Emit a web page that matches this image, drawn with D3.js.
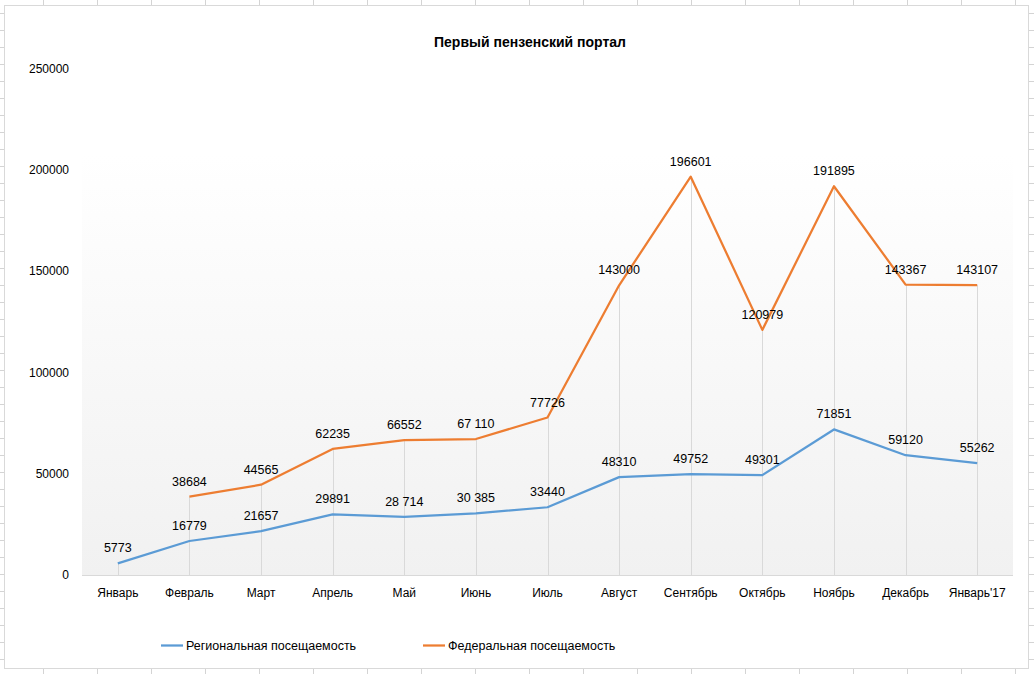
<!DOCTYPE html>
<html><head><meta charset="utf-8">
<script src="https://cdn.jsdelivr.net/npm/d3@7"></script>
<style>
html,body{margin:0;padding:0;background:#fff;}
svg{display:block;font-family:"Liberation Sans",Arial,sans-serif;}
</style></head>
<body><svg id="c" width="1034" height="674"></svg>
<script>
const title = "Первый пензенский портал";
const months = ["Январь","Февраль","Март","Апрель","Май","Июнь","Июль","Август","Сентябрь","Октябрь","Ноябрь","Декабрь","Январь'17"];
const regional = [5773,16779,21657,29891,28714,30385,33440,48310,49752,49301,71851,59120,55262];
const regionalLabels = ["5773","16779","21657","29891","28 714","30 385","33440","48310","49752","49301","71851","59120","55262"];
const federal = [null,38684,44565,62235,66552,67110,77726,143000,196601,120979,191895,143367,143107];
const federalLabels = ["","38684","44565","62235","66552","67 110","77726","143000","196601","120979","191895","143367","143107"];
const yTicks = [0,50000,100000,150000,200000,250000];
const seriesNames = ["Региональная посещаемость","Федеральная посещаемость"];
const colors = ["#5b9bd5","#ed7d31"];

const svg = d3.select("#c");
const W = 1034, H = 674;

// spreadsheet grid background
const grid = svg.append("g").attr("stroke","#d4d4d4").attr("stroke-width",1).attr("shape-rendering","crispEdges");
for (let x = 43.5; x < W; x += 54) grid.append("line").attr("x1",x).attr("x2",x).attr("y1",0).attr("y2",H);
for (let y = 13.5; y < H; y += 17) grid.append("line").attr("x1",0).attr("x2",W).attr("y1",y).attr("y2",y);

// chart object
svg.append("rect").attr("x",4.5).attr("y",5.5).attr("width",1024).attr("height",663)
  .attr("fill","#fff").attr("stroke","#d9d9d9").attr("shape-rendering","crispEdges");

const plotL = 82, plotR = 1013, plotTop = 155, plotBottom = 575;
const x = d3.scaleBand().domain(months).range([plotL, plotR]).paddingInner(0).paddingOuter(0);
const cx = m => x(m) + x.bandwidth()/2;
const y = d3.scaleLinear().domain([0,250000]).range([plotBottom, 68.5]);

const defs = svg.append("defs");
const gr = defs.append("linearGradient").attr("id","pg").attr("x1",0).attr("y1",0).attr("x2",0).attr("y2",1);
gr.append("stop").attr("offset","0%").attr("stop-color","#ffffff");
gr.append("stop").attr("offset","100%").attr("stop-color","#f1f1f1");
svg.append("rect").attr("x",plotL).attr("y",plotTop).attr("width",plotR-plotL).attr("height",plotBottom-plotTop).attr("fill","url(#pg)");

// title
svg.append("text").attr("x",530).attr("y",47).attr("text-anchor","middle")
  .attr("font-size",14).attr("font-weight","bold").attr("fill","#000").text(title);

// y axis labels
const yAxis = d3.axisLeft(y).tickValues(yTicks).tickSize(0).tickPadding(0).tickFormat(d3.format("d"));
const ya = svg.append("g").attr("transform",`translate(69,0)`).call(yAxis);
ya.select(".domain").remove();
ya.selectAll("text").attr("font-size",12).attr("fill","#000").attr("font-family","Liberation Sans, Arial, sans-serif");

// drop lines
const dl = svg.append("g").attr("stroke","#d9d9d9").attr("stroke-width",1);
months.forEach((m,i) => {
  const top = Math.max(regional[i], federal[i] == null ? 0 : federal[i]);
  dl.append("line").attr("x1",Math.round(cx(m))+0.5).attr("x2",Math.round(cx(m))+0.5)
    .attr("y1",y(top)).attr("y2",plotBottom);
});

// x axis
const xAxis = d3.axisBottom(x).tickSize(0).tickPadding(0);
const xa = svg.append("g").attr("transform",`translate(0,${plotBottom})`).call(xAxis);
xa.select(".domain").attr("stroke","#d9d9d9").attr("d",`M${plotL},0.5H${plotR}`);
xa.selectAll("text").attr("font-size",12).attr("fill","#000").attr("dy",null).attr("y",22)
  .attr("font-family","Liberation Sans, Arial, sans-serif");

// lines
const line = d3.line().defined(d => d.v != null).x(d => cx(d.m)).y(d => y(d.v));
[regional, federal].forEach((arr,k) => {
  const data = months.map((m,i) => ({m, v: arr[i]}));
  svg.append("path").datum(data).attr("d",line).attr("fill","none")
    .attr("stroke",colors[k]).attr("stroke-width",2.25).attr("stroke-linejoin","round");
});

// data labels
[[regional,regionalLabels],[federal,federalLabels]].forEach(([arr,labs]) => {
  svg.append("g").selectAll("text").data(months.map((m,i)=>({m,v:arr[i],t:labs[i]})).filter(d=>d.v!=null))
    .join("text").attr("x",d=>cx(d.m)).attr("y",d=>y(d.v)-11).attr("text-anchor","middle")
    .attr("font-size",12.5).attr("fill","#000").text(d=>d.t);
});

// legend
const lg = [{x:161, name:seriesNames[0], c:colors[0]},{x:423, name:seriesNames[1], c:colors[1]}];
lg.forEach(d => {
  svg.append("line").attr("x1",d.x).attr("x2",d.x+22).attr("y1",645.5).attr("y2",645.5)
    .attr("stroke",d.c).attr("stroke-width",2.25);
  svg.append("text").attr("x",d.x+25).attr("y",650).attr("font-size",12.5).attr("fill","#000").text(d.name);
});
</script></body></html>
